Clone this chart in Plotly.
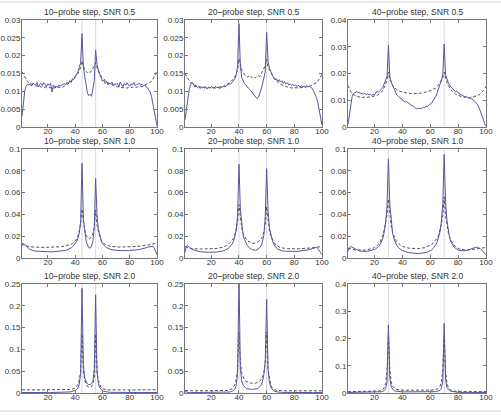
import plotly.graph_objects as go

# probe positions
x = list(range(1, 101))

titles = ["10\u2013probe step, SNR 0.5", "20\u2013probe step, SNR 0.5", "40\u2013probe step, SNR 0.5",
          "10\u2013probe step, SNR 1.0", "20\u2013probe step, SNR 1.0", "40\u2013probe step, SNR 1.0",
          "10\u2013probe step, SNR 2.0", "20\u2013probe step, SNR 2.0", "40\u2013probe step, SNR 2.0"]

peak_pos = [[45, 55], [40, 60], [30, 70]] * 3

yticks_r1 = [0, 0.005, 0.01, 0.015, 0.02, 0.025, 0.03]
yticks_r1c3 = [0, 0.01, 0.02, 0.03, 0.04]
yticks_r2 = [0, 0.02, 0.04, 0.06, 0.08, 0.1]
yticks_r3 = [0, 0.05, 0.1, 0.15, 0.2, 0.25]
yticks_r3c3 = [0, 0.1, 0.2, 0.3, 0.4]
xticks = [20, 40, 60, 80, 100]

s1 = [.003,.007,.010,.0115,.012,.0118,.0122,.0115,.0123,.012,
      .0118,.0125,.0112,.012,.0122,.0116,.0124,.0119,.0113,.0121,
      .0117,.0123,.0098,.0118,.0112,.0115,.0111,.0118,.0114,.0117,
      .012,.0122,.0119,.0126,.0121,.013,.0125,.0135,.0133,.014,
      .0145,.0155,.0168,.018,.0262,.017,.0142,.0118,.0095,.0088,
      .0092,.0086,.0105,.013,.0215,.0175,.016,.0148,.0135,.0128,
      .0132,.0122,.0128,.0118,.0124,.012,.0126,.0115,.0121,.0119,
      .0123,.0112,.0126,.0118,.0113,.0122,.0117,.0124,.0119,.0114,
      .0121,.0118,.0125,.0116,.012,.0119,.0123,.0117,.012,.0116,
      .0118,.0112,.011,.0105,.0098,.0085,.0065,.0045,.002,.0003]
d1 = [.0155,.0148,.014,.0133,.0128,.0125,.0122,.012,.0119,.0117,
      .0115,.0116,.0113,.0114,.0112,.0113,.0111,.0112,.011,.0112,
      .0111,.011,.0112,.0109,.011,.0111,.0109,.0112,.0111,.0113,
      .0112,.0114,.0116,.0118,.0121,.0124,.0128,.0132,.0136,.014,
      .0145,.015,.0158,.0168,.0185,.0168,.016,.0156,.0152,.0155,
      .0153,.0158,.0163,.017,.018,.0165,.0155,.0148,.0142,.0138,
      .0134,.013,.0127,.0124,.0122,.012,.0118,.0116,.0115,.0114,
      .0113,.0112,.0111,.0112,.011,.0111,.011,.0109,.0111,.011,
      .0111,.0112,.011,.0111,.0112,.0113,.0112,.0114,.0113,.0115,
      .0116,.0118,.012,.0122,.0125,.0128,.0133,.014,.0148,.0158]

s2 = [.002,.005,.008,.0105,.0118,.0125,.0122,.0112,.0115,.011,
      .0113,.0108,.0112,.0109,.0114,.011,.0107,.0112,.0109,.0113,
      .0111,.0108,.0114,.011,.0112,.0107,.0113,.0111,.0115,.0112,
      .0116,.0118,.0121,.012,.0125,.0128,.0135,.0145,.0172,.029,
      .0172,.0138,.0128,.0122,.0118,.0112,.0108,.0104,.0099,.0095,
      .009,.0086,.008,.0083,.0092,.0105,.012,.0135,.0155,.0265,
      .0185,.0165,.0152,.0146,.0138,.0132,.0135,.0128,.0133,.0126,
      .013,.0122,.0127,.012,.0124,.0118,.0121,.0116,.012,.0115,
      .0118,.0113,.0117,.0112,.0116,.0111,.0115,.0113,.0116,.0112,
      .0114,.011,.0108,.01,.0092,.0082,.0068,.005,.003,.0005]
d2 = [.015,.0142,.0136,.013,.0125,.0122,.012,.0117,.0115,.0114,
      .0113,.0112,.0111,.0112,.011,.0111,.0109,.011,.0111,.0109,
      .011,.0111,.0109,.011,.0112,.0111,.0113,.0112,.0114,.0116,
      .0118,.012,.0123,.0127,.013,.0135,.014,.0148,.016,.0192,
      .0172,.016,.0152,.0147,.0143,.014,.0142,.0138,.0141,.0137,
      .014,.0138,.0142,.0144,.0141,.0148,.0155,.0163,.0172,.019,
      .0168,.016,.0152,.0146,.014,.0135,.013,.0126,.0122,.012,
      .0118,.0116,.0115,.0113,.0112,.0111,.011,.0111,.0109,.011,
      .0111,.011,.0109,.011,.0111,.011,.0112,.0111,.0113,.0112,
      .0114,.0115,.0116,.0118,.012,.0124,.0128,.0134,.0142,.015]

s3 = [.001,.005,.009,.0115,.0125,.013,.0132,.013,.0128,.0127,
      .0125,.0123,.0126,.0121,.0124,.012,.0122,.0118,.0123,.012,
      .0128,.0135,.013,.0138,.0142,.0148,.016,.0172,.019,.0305,
      .019,.0168,.0155,.0142,.013,.012,.0115,.011,.0104,.01,
      .0097,.0093,.0095,.009,.0087,.0083,.008,.0078,.0072,.0068,
      .007,.0068,.0071,.0069,.0074,.0072,.0078,.0076,.0082,.0085,
      .009,.0098,.0105,.0115,.0128,.0142,.016,.0175,.0195,.031,
      .0195,.0175,.0165,.0155,.0148,.0142,.0138,.0132,.0135,.0128,
      .0125,.0122,.012,.0116,.0112,.0115,.011,.0106,.0108,.0102,
      .01,.0096,.009,.0082,.0072,.006,.0045,.003,.0012,.0003]
d3 = [.0155,.0142,.0132,.0125,.012,.0117,.0115,.0113,.0112,.0111,
      .011,.0111,.0112,.011,.0111,.0112,.0113,.0112,.0114,.0115,
      .0117,.0119,.0122,.0126,.013,.0137,.0148,.016,.0178,.0205,
      .0178,.0165,.0155,.0148,.0143,.0139,.0136,.0134,.0132,.013,
      .0129,.0128,.0127,.0126,.0126,.0125,.0126,.0125,.0124,.0125,
      .0126,.0125,.0127,.0126,.0128,.0129,.013,.0132,.0134,.0136,
      .0138,.014,.0143,.0146,.0152,.0158,.0165,.0175,.0185,.0205,
      .018,.0165,.0155,.0145,.0138,.0132,.0127,.0123,.012,.0118,
      .0116,.0114,.0113,.0112,.0111,.011,.0111,.011,.0111,.0112,
      .0113,.0114,.0115,.0117,.012,.0124,.0128,.0135,.0143,.0152]

s4 = [.011,.013,.0125,.011,.0095,.0085,.0078,.0072,.0068,.0065,
      .0063,.0062,.006,.0061,.0059,.006,.0058,.0059,.0057,.0058,
      .0056,.0057,.0056,.0057,.0058,.0057,.0058,.006,.0061,.0063,
      .0065,.0067,.007,.0074,.0078,.0084,.0092,.0102,.0115,.013,
      .015,.018,.023,.033,.087,.036,.023,.016,.012,.0095,
      .009,.011,.016,.028,.073,.04,.027,.02,.016,.0135,
      .0118,.0105,.0096,.0089,.0083,.0079,.0076,.0073,.0071,.007,
      .0069,.0068,.0068,.0067,.0068,.0067,.0068,.0069,.0068,.007,
      .007,.0071,.0072,.0073,.0075,.0076,.0078,.008,.0083,.0086,
      .0089,.0093,.0097,.0102,.0106,.011,.0108,.009,.0055,.003]
d4 = [.0135,.0125,.0118,.0112,.0108,.0105,.0103,.0102,.0101,.01,
      .0099,.0099,.0098,.0098,.0098,.0097,.0098,.0097,.0098,.0098,
      .0098,.0098,.0099,.0099,.01,.01,.0101,.0102,.0103,.0104,
      .0106,.0108,.011,.0113,.0116,.012,.0125,.0132,.0142,.0155,
      .0175,.02,.025,.032,.045,.032,.025,.021,.0185,.0175,
      .018,.0195,.022,.029,.044,.03,.024,.0195,.0168,.0148,
      .0135,.0125,.0118,.0113,.011,.0107,.0105,.0104,.0103,.0102,
      .0101,.0101,.01,.01,.01,.01,.01,.0101,.0101,.0102,
      .0102,.0103,.0104,.0105,.0106,.0107,.0108,.011,.0111,.0113,
      .0115,.0117,.0119,.0121,.0123,.0125,.0127,.013,.0133,.0137]

s5 = [.005,.011,.011,.0098,.0088,.008,.0074,.0069,.0065,.0062,
      .006,.0058,.0056,.0055,.0054,.0053,.0053,.0052,.0053,.0052,
      .0053,.0053,.0054,.0055,.0056,.0058,.006,.0063,.0067,.0072,
      .0078,.0086,.0096,.011,.0128,.015,.019,.025,.040,.086,
      .045,.029,.021,.017,.0138,.0115,.0098,.0087,.008,.0075,
      .0072,.0072,.0075,.0082,.0095,.0115,.015,.021,.038,.082,
      .044,.028,.021,.0165,.013,.0108,.0093,.0082,.0075,.007,
      .0066,.0063,.0062,.0061,.006,.0059,.0059,.0058,.0059,.0059,
      .006,.006,.0061,.0062,.0063,.0065,.0067,.0069,.0072,.0075,
      .0078,.0082,.0086,.009,.0095,.0098,.0085,.007,.005,.003]
d5 = [.0105,.0098,.0093,.009,.0088,.0086,.0085,.0084,.0083,.0083,
      .0082,.0082,.0082,.0082,.0082,.0082,.0083,.0083,.0084,.0084,
      .0085,.0086,.0087,.0088,.009,.0092,.0095,.0098,.0102,.0108,
      .0114,.0122,.0132,.0145,.016,.018,.021,.026,.033,.049,
      .034,.027,.0225,.0195,.0175,.016,.015,.0143,.0138,.0135,
      .0135,.0137,.0142,.015,.016,.0175,.0198,.024,.031,.047,
      .032,.025,.0205,.017,.0148,.013,.0118,.0108,.0101,.0096,
      .0092,.009,.0088,.0087,.0086,.0085,.0085,.0084,.0084,.0084,
      .0084,.0084,.0085,.0085,.0086,.0086,.0087,.0088,.0089,.009,
      .0091,.0092,.0093,.0094,.0095,.0097,.0099,.0101,.0103,.0105]

s6 = [.006,.0095,.0105,.0098,.009,.0082,.0075,.007,.0066,.0063,
      .0061,.006,.006,.0061,.0062,.0064,.0066,.0069,.0073,.0078,
      .0085,.0094,.0106,.0122,.0145,.018,.024,.033,.048,.091,
      .049,.032,.023,.0175,.014,.0115,.0098,.0085,.0076,.0069,
      .0063,.0058,.0054,.0051,.0048,.0046,.0044,.0043,.0042,.0041,
      .0041,.0041,.0042,.0043,.0045,.0047,.005,.0054,.0059,.0066,
      .0075,.0087,.0102,.0122,.0148,.0185,.024,.034,.05,.095,
      .051,.034,.024,.018,.0145,.012,.0102,.009,.008,.0074,
      .007,.0067,.0066,.0066,.0067,.0069,.0072,.0076,.0081,.0087,
      .0092,.0096,.0099,.0098,.0094,.0085,.0072,.0055,.004,.003]
d6 = [.009,.0086,.0082,.0079,.0076,.0074,.0073,.0072,.0071,.0071,
      .0071,.0072,.0073,.0074,.0076,.0078,.0081,.0085,.009,.0096,
      .0104,.0114,.0127,.0145,.017,.021,.026,.033,.04,.054,
      .038,.029,.0235,.0198,.017,.015,.0135,.0123,.0114,.0107,
      .0102,.0098,.0095,.0092,.009,.0088,.0087,.0086,.0086,.0086,
      .0086,.0087,.0088,.009,.0092,.0095,.0099,.0104,.011,.0117,
      .0125,.0135,.0148,.0163,.0182,.021,.025,.031,.039,.056,
      .039,.029,.023,.0188,.0158,.0135,.0118,.0105,.0095,.0088,
      .0083,.0079,.0077,.0075,.0074,.0074,.0074,.0075,.0076,.0077,
      .0079,.0081,.0083,.0085,.0087,.0089,.0091,.0093,.0095,.0097]

s7 = [.0012,.0011,.001,.001,.001,.001,.001,.001,.001,.001,
      .001,.001,.001,.001,.001,.001,.001,.001,.001,.001,
      .001,.001,.001,.001,.0011,.0011,.0012,.0012,.0013,.0014,
      .0015,.0016,.0018,.002,.0022,.0025,.003,.0035,.0045,.006,
      .008,.012,.02,.045,.24,.065,.034,.025,.021,.019,
      .019,.021,.027,.055,.225,.05,.022,.012,.0075,.0052,
      .0038,.003,.0025,.0021,.0018,.0016,.0015,.0014,.0013,.0012,
      .0012,.0012,.0011,.0011,.0011,.001,.001,.001,.001,.001,
      .001,.001,.001,.001,.001,.001,.001,.001,.001,.001,
      .001,.001,.001,.001,.001,.001,.001,.001,.001,.001]
d7 = [.0075,.0072,.007,.007,.007,.007,.007,.007,.007,.007,
      .007,.007,.007,.007,.007,.007,.007,.007,.007,.007,
      .007,.007,.007,.007,.007,.007,.007,.007,.007,.007,
      .007,.007,.0071,.0072,.0074,.0077,.0082,.009,.0102,.012,
      .015,.02,.03,.05,.135,.05,.028,.019,.015,.0135,
      .0135,.015,.02,.035,.135,.05,.028,.017,.012,.0095,
      .0083,.0077,.0074,.0072,.0071,.007,.007,.007,.007,.007,
      .007,.007,.007,.007,.007,.007,.007,.007,.007,.007,
      .007,.007,.007,.007,.007,.007,.007,.007,.007,.007,
      .007,.007,.007,.007,.007,.007,.007,.0071,.0072,.0075]

s8 = [.003,.002,.0015,.001,.001,.001,.001,.001,.001,.001,
      .001,.001,.001,.001,.001,.001,.001,.001,.001,.001,
      .001,.001,.001,.001,.001,.001,.0011,.0011,.0012,.0013,
      .0015,.0018,.0022,.0028,.0038,.0055,.009,.017,.045,.27,
      .055,.028,.018,.0135,.011,.0098,.009,.0086,.0085,.0085,
      .0086,.009,.0098,.011,.0135,.018,.026,.042,.075,.215,
      .055,.025,.013,.0075,.005,.0035,.0027,.0022,.0018,.0016,
      .0014,.0013,.0012,.0012,.0011,.0011,.001,.001,.001,.001,
      .001,.001,.001,.001,.001,.001,.001,.001,.001,.001,
      .001,.001,.001,.001,.001,.001,.001,.001,.001,.001]
d8 = [.0055,.0052,.005,.005,.005,.005,.005,.005,.005,.005,
      .005,.005,.005,.005,.005,.005,.005,.005,.005,.005,
      .005,.005,.005,.005,.005,.005,.005,.005,.005,.0052,
      .0055,.006,.0068,.008,.01,.0135,.019,.03,.055,.14,
      .07,.045,.035,.03,.027,.025,.024,.023,.0225,.022,
      .0222,.0228,.0235,.025,.027,.03,.036,.047,.07,.14,
      .055,.03,.018,.012,.0085,.0068,.006,.0056,.0053,.0052,
      .005,.005,.005,.005,.005,.005,.005,.005,.005,.005,
      .005,.005,.005,.005,.005,.005,.005,.005,.005,.005,
      .005,.005,.005,.005,.005,.005,.005,.005,.005,.005]

s9 = [.002,.002,.002,.002,.002,.002,.002,.002,.002,.002,
      .002,.002,.002,.002,.002,.002,.002,.002,.002,.002,
      .0022,.0025,.003,.0036,.0045,.006,.009,.016,.04,.25,
      .055,.022,.013,.0088,.0068,.0058,.0052,.0048,.0045,.0043,
      .0042,.0041,.004,.004,.004,.004,.004,.004,.004,.004,
      .004,.004,.004,.004,.004,.004,.004,.0041,.0041,.0042,
      .0043,.0045,.0048,.0053,.006,.0072,.0095,.016,.045,.255,
      .05,.02,.012,.0085,.0062,.005,.004,.0033,.0028,.0025,
      .0022,.0021,.002,.002,.002,.002,.002,.002,.002,.002,
      .002,.002,.002,.002,.002,.002,.002,.002,.002,.002]
d9 = [.005,.005,.005,.005,.005,.005,.005,.005,.005,.005,
      .005,.005,.005,.005,.005,.005,.005,.005,.005,.005,
      .0055,.006,.0068,.008,.01,.0135,.02,.035,.08,.21,
      .085,.04,.025,.018,.0145,.0128,.0118,.0112,.0108,.0105,
      .0103,.0102,.0101,.01,.01,.01,.01,.01,.01,.01,
      .01,.01,.01,.01,.01,.0101,.0102,.0103,.0105,.0106,
      .0108,.0112,.0118,.0128,.0145,.018,.025,.04,.085,.21,
      .08,.035,.02,.0135,.01,.008,.0068,.006,.0055,.0052,
      .005,.005,.005,.005,.005,.005,.005,.005,.005,.005,
      .005,.005,.005,.005,.005,.005,.005,.005,.005,.005]

solid = [s1, s2, s3, s4, s5, s6, s7, s8, s9]
dashed = [d1, d2, d3, d4, d5, d6, d7, d8, d9]
yticks = [yticks_r1, yticks_r1, yticks_r1c3, yticks_r2, yticks_r2, yticks_r2,
          yticks_r3, yticks_r3, yticks_r3c3]

W, H = 501, 416
col_px = [(22, 157), (185, 322), (348, 486)]
row_px = [(20, 127), (149, 258), (284, 393)]

SOLID_C = "#5656a2"
DASH_C = "#3c3c3c"
AX_C = "#777777"
TXT_C = "#333333"
FONT = "Liberation Sans, Arial, sans-serif"


def fmt(v):
    if v == 0:
        return "0"
    return ("%g" % v)

fig = go.Figure()
layout = dict(width=W, height=H, margin=dict(l=0, r=0, t=0, b=0),
              paper_bgcolor="white", plot_bgcolor="white", showlegend=False,
              shapes=[], annotations=[])

for i in range(9):
    r, c = divmod(i, 3)
    n = "" if i == 0 else str(i + 1)
    xa, ya = "x" + n, "y" + n
    x0, x1 = col_px[c]
    yt, yb = row_px[r]
    yt_list = yticks[i]
    layout["xaxis" + n] = dict(domain=[x0 / W, x1 / W], anchor=ya, range=[1, 100],
                               tickvals=xticks, ticktext=[str(t) for t in xticks],
                               ticks="inside", ticklen=3, tickcolor=AX_C,
                               ticklabelstandoff=-4,
                               showline=True, linecolor=AX_C, linewidth=1, mirror="ticks",
                               showgrid=False, zeroline=False, automargin=False,
                               tickfont=dict(family=FONT, size=8, color=TXT_C))
    layout["yaxis" + n] = dict(domain=[1 - yb / H, 1 - yt / H], anchor=xa,
                               range=[0, yt_list[-1]],
                               tickvals=yt_list, ticktext=[fmt(t) for t in yt_list],
                               ticks="inside", ticklen=3, tickcolor=AX_C,
                               ticklabelstandoff=-1,
                               showline=True, linecolor=AX_C, linewidth=1, mirror="ticks",
                               showgrid=False, zeroline=False, automargin=False,
                               tickfont=dict(family=FONT, size=8, color=TXT_C))
    for p in peak_pos[i]:
        layout["shapes"].append(dict(type="line", xref=xa, yref=ya + " domain",
                                     x0=p, x1=p, y0=0, y1=1,
                                     line=dict(color="#dadada", width=1), layer="below"))
    fig.add_trace(go.Scatter(x=x, y=dashed[i], mode="lines", xaxis=xa, yaxis=ya,
                             line=dict(color=DASH_C, width=0.9, dash="3px,2px")))
    fig.add_trace(go.Scatter(x=x, y=solid[i], mode="lines", xaxis=xa, yaxis=ya,
                             line=dict(color=SOLID_C, width=1)))
    layout["annotations"].append(dict(text=titles[i], xref=xa + " domain", yref=ya + " domain",
                                      x=0.5, y=1, xanchor="center", yanchor="bottom", yshift=1,
                                      showarrow=False,
                                      font=dict(family=FONT, size=8.5, color=TXT_C)))

# light frame lines at top and bottom of the figure
for yy in [1 - 2 / H, 1 - 411 / H]:
    layout["shapes"].append(dict(type="line", xref="paper", yref="paper", x0=0, x1=1,
                                 y0=yy, y1=yy, line=dict(color="#d0d0d0", width=1)))

fig.update_layout(**layout)
fig.write_html("out.html")
